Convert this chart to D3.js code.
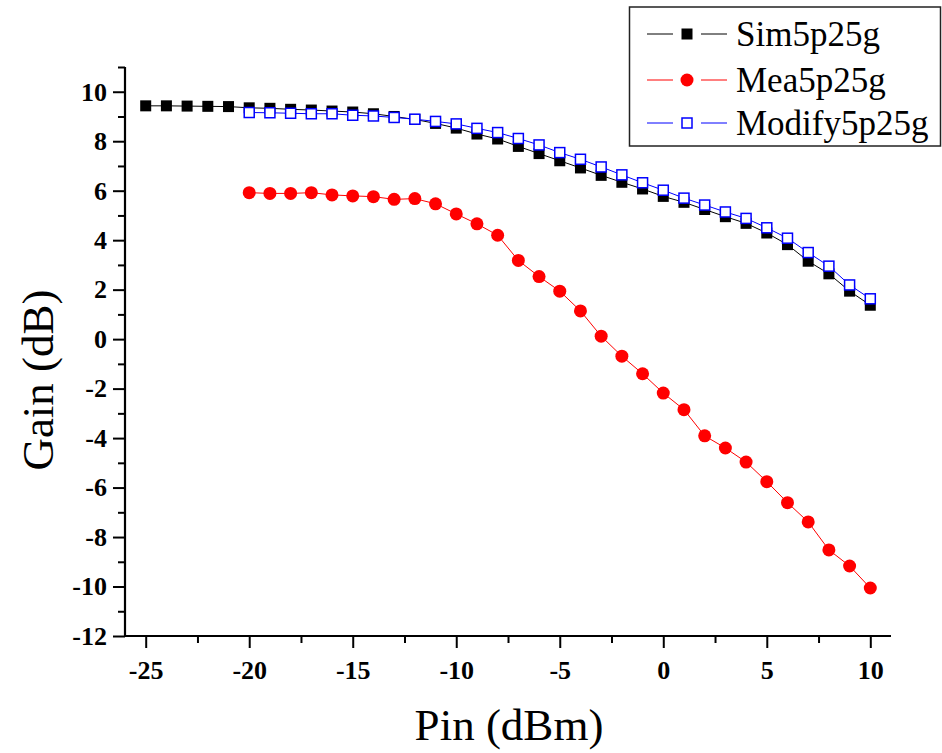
<!DOCTYPE html>
<html>
<head>
<meta charset="utf-8">
<script src="https://cdn.jsdelivr.net/npm/d3@7"></script>
<style>
  html, body { margin: 0; padding: 0; background: #fff; }
  svg { display: block; }
</style>
</head>
<body>
<svg id="chart" width="942" height="753"></svg>
<script>
// ---- data ----
const simX = [-25,-24,-23,-22,-21,-20,-19,-18,-17,-16,-15,-14,-13,-12,-11,-10,-9,-8,-7,-6,-5,-4,-3,-2,-1,0,1,2,3,4,5,6,7,8,9,10];
const simY = [9.43,9.43,9.42,9.41,9.40,9.35,9.33,9.29,9.26,9.22,9.18,9.11,9.00,8.88,8.72,8.53,8.29,8.09,7.79,7.50,7.21,6.92,6.62,6.34,6.07,5.77,5.53,5.24,4.95,4.68,4.29,3.82,3.15,2.64,1.94,1.37];

const meaX = [-20,-19,-18,-17,-16,-15,-14,-13,-12,-11,-10,-9,-8,-7,-6,-5,-4,-3,-2,-1,0,1,2,3,4,5,6,7,8,9,10];
const meaY = [5.92,5.89,5.89,5.92,5.83,5.79,5.76,5.65,5.68,5.47,5.06,4.66,4.20,3.18,2.53,1.94,1.14,0.12,-0.69,-1.40,-2.18,-2.85,-3.91,-4.40,-4.97,-5.76,-6.61,-7.39,-8.52,-9.17,-10.06];

const modX = [-20,-19,-18,-17,-16,-15,-14,-13,-12,-11,-10,-9,-8,-7,-6,-5,-4,-3,-2,-1,0,1,2,3,4,5,6,7,8,9,10];
const modY = [9.16,9.15,9.13,9.11,9.11,9.05,9.02,8.96,8.89,8.80,8.70,8.52,8.35,8.11,7.85,7.54,7.27,6.96,6.64,6.32,6.02,5.70,5.42,5.14,4.88,4.50,4.08,3.50,2.95,2.19,1.63];

const xMajorTicks = [-25,-20,-15,-10,-5,0,5,10];
const xMinorTicks = [-22.5,-17.5,-12.5,-7.5,-2.5,2.5,7.5];
const yMajorTicks = [-12,-10,-8,-6,-4,-2,0,2,4,6,8,10];
const yMinorTicks = [-11,-9,-7,-5,-3,-1,1,3,5,7,9,11];

const seriesNames = ["Sim5p25g","Mea5p25g","Modify5p25g"];
const xTitle = "Pin (dBm)";
const yTitle = "Gain (dB)";

// ---- layout ----
const svg = d3.select("#chart");
const x = d3.scaleLinear().domain([-26, 11]).range([125, 891]);
const y = d3.scaleLinear().domain([-12, 11]).range([636, 67]);
const serif = '"Liberation Serif", Tinos, "Noto Serif", "DejaVu Serif", FreeSerif, "Nimbus Roman", "Nimbus Roman No9 L", "Times New Roman", Times, serif';

const xAxisMajor = d3.axisBottom(x).tickValues(xMajorTicks).tickSize(12).tickPadding(8).tickFormat(d3.format("d"));
const xAxisMinor = d3.axisBottom(x).tickValues(xMinorTicks).tickSize(7).tickFormat("");
const yAxisMajor = d3.axisLeft(y).tickValues(yMajorTicks).tickSize(12).tickPadding(6).tickFormat(d3.format("d"));
const yAxisMinor = d3.axisLeft(y).tickValues(yMinorTicks).tickSize(7).tickFormat("");

function styleAxis(g) {
  g.attr("font-family", null).attr("font-size", null);
  g.select(".domain").remove();
  g.selectAll(".tick line").attr("stroke", "#000").attr("stroke-width", 2);
  g.selectAll(".tick text")
    .attr("fill", "#000")
    .attr("font-family", serif)
    .attr("font-weight", "bold")
    .attr("font-size", 26);
}

const gxMin = svg.append("g").attr("transform", `translate(0,${y(-12)})`).call(xAxisMinor); styleAxis(gxMin);
const gx = svg.append("g").attr("transform", `translate(0,${y(-12)})`).call(xAxisMajor); styleAxis(gx);
gx.selectAll(".tick text").attr("dy", "0.9em").text(d => d < 0 ? "-" + Math.abs(d) : d);
const gyMin = svg.append("g").attr("transform", `translate(${x(-26)},0)`).call(yAxisMinor); styleAxis(gyMin);
const gy = svg.append("g").attr("transform", `translate(${x(-26)},0)`).call(yAxisMajor); styleAxis(gy);
gy.selectAll(".tick text").text(d => d < 0 ? "-" + Math.abs(d) : d);

svg.append("line").attr("x1", x(-26)).attr("x2", x(11)).attr("y1", y(-12)).attr("y2", y(-12))
  .attr("stroke", "#000").attr("stroke-width", 2.2);
svg.append("line").attr("x1", x(-26)).attr("x2", x(-26)).attr("y1", y(-12)).attr("y2", y(11))
  .attr("stroke", "#000").attr("stroke-width", 2.2);

svg.append("text").attr("x", 509).attr("y", 740).attr("text-anchor", "middle")
  .attr("font-family", serif).attr("font-size", 45).attr("fill", "#000").text(xTitle);
svg.append("text").attr("transform", "translate(53,380) rotate(-90)").attr("text-anchor", "middle")
  .attr("font-family", serif).attr("font-size", 45).attr("fill", "#000").text(yTitle);

const line = d3.line().x(d => x(d[0])).y(d => y(d[1]));
const simData = simX.map((v, i) => [v, simY[i]]);
const meaData = meaX.map((v, i) => [v, meaY[i]]);
const modData = modX.map((v, i) => [v, modY[i]]);

svg.append("path").datum(simData).attr("d", line).attr("fill", "none").attr("stroke", "#000").attr("stroke-width", 1);
svg.append("g").selectAll("rect").data(simData).join("rect")
  .attr("x", d => x(d[0]) - 5.5).attr("y", d => y(d[1]) - 5.5).attr("width", 11).attr("height", 11).attr("fill", "#000");

svg.append("path").datum(meaData).attr("d", line).attr("fill", "none").attr("stroke", "#ff0000").attr("stroke-width", 1);
svg.append("g").selectAll("circle").data(meaData).join("circle")
  .attr("cx", d => x(d[0])).attr("cy", d => y(d[1])).attr("r", 6.5).attr("fill", "#ff0000");

svg.append("path").datum(modData).attr("d", line).attr("fill", "none").attr("stroke", "#0000ff").attr("stroke-width", 1);
svg.append("g").selectAll("rect").data(modData).join("rect")
  .attr("x", d => x(d[0]) - 5).attr("y", d => y(d[1]) - 5).attr("width", 10).attr("height", 10)
  .attr("fill", "#fff").attr("stroke", "#0000ff").attr("stroke-width", 1.5);

const lg = svg.append("g");
lg.append("rect").attr("x", 629.5).attr("y", 7).attr("width", 311).attr("height", 139)
  .attr("fill", "#fff").attr("stroke", "#222").attr("stroke-width", 1.5);
const legendRows = [
  { name: seriesNames[0], color: "#000", type: "filledSquare", ly: 34 },
  { name: seriesNames[1], color: "#ff0000", type: "circle", ly: 80 },
  { name: seriesNames[2], color: "#0000ff", type: "openSquare", ly: 123 }
];
legendRows.forEach(r => {
  lg.append("line").attr("x1", 647).attr("x2", 673).attr("y1", r.ly).attr("y2", r.ly).attr("stroke", r.color).attr("stroke-width", 1);
  lg.append("line").attr("x1", 701).attr("x2", 727).attr("y1", r.ly).attr("y2", r.ly).attr("stroke", r.color).attr("stroke-width", 1);
  if (r.type === "filledSquare") {
    lg.append("rect").attr("x", 687 - 5.5).attr("y", r.ly - 5.5).attr("width", 11).attr("height", 11).attr("fill", "#000");
  } else if (r.type === "circle") {
    lg.append("circle").attr("cx", 687).attr("cy", r.ly).attr("r", 6.5).attr("fill", "#ff0000");
  } else {
    lg.append("rect").attr("x", 687 - 5).attr("y", r.ly - 5).attr("width", 10).attr("height", 10)
      .attr("fill", "#fff").attr("stroke", "#0000ff").attr("stroke-width", 1.5);
  }
  lg.append("text").attr("x", 736).attr("y", r.ly + 12)
    .attr("font-family", serif).attr("font-size", 35).attr("fill", "#000").text(r.name);
});
</script>
</body>
</html>
